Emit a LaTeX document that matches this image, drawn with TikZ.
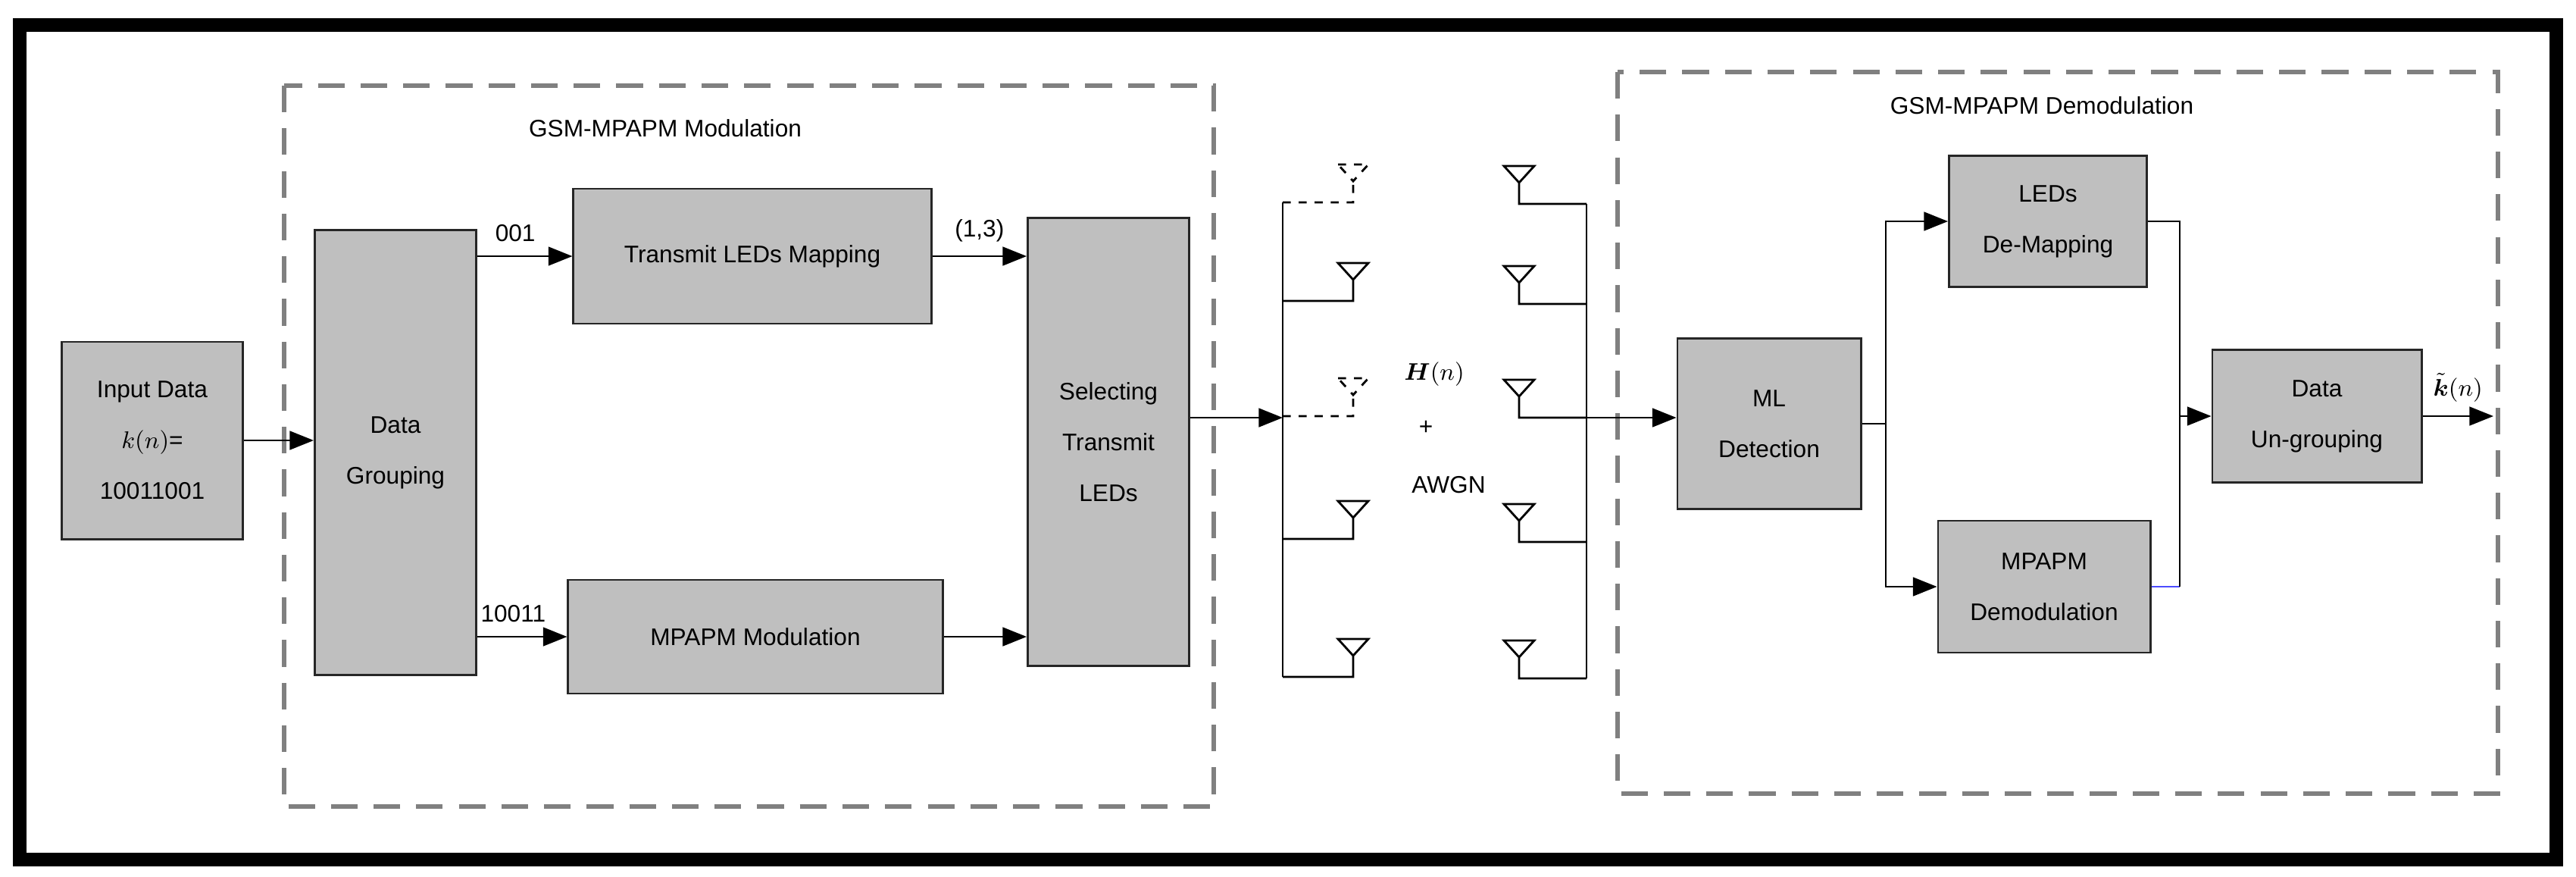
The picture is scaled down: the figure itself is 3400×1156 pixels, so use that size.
\documentclass[tikz,border=0pt]{standalone}
\usepackage{fontspec}
\setmainfont{Liberation Sans}
\usepackage{amsmath}
\usetikzlibrary{arrows.meta}
\begin{document}
\begin{tikzpicture}[x=0.01cm, y=-0.01cm,
block/.style={draw=black!85, fill=black!25, thick, inner sep=0pt, align=center, font=\fontsize{9}{19}\selectfont},
lbl/.style={font=\fontsize{9}{11}\selectfont, inner sep=1pt},
group/.style={draw=black!50, dashed, dash pattern=on 10pt off 6pt, line width=1.6pt},
line/.style={draw=black, thick},
arr/.style={line, -{Triangle[length=9pt, width=7pt]}}
]
\useasboundingbox (0,0) rectangle (3400,1156);
\draw[line width=5pt] (26,33) rectangle (3374,1134);
%Groups
\draw[group] (375,113) rectangle (1602,1064);
\draw[group] (2135,95) rectangle (3297,1047);
\node[lbl] (tmod) at (878,169) {GSM-MPAPM Modulation};
\node[lbl] (tdem) at (2695,139) {GSM-MPAPM Demodulation};
%Nodes
\node[block, minimum width=2.39cm, minimum height=2.60cm] (in)  at (201,581)  {Input Data\\$k(n)$=\\10011001};
\node[block, minimum width=2.13cm, minimum height=5.87cm] (dg)  at (522,597)  {Data\\Grouping};
\node[block, minimum width=4.72cm, minimum height=1.78cm] (tlm) at (993,338)  {Transmit LEDs Mapping};
\node[block, minimum width=4.94cm, minimum height=1.50cm] (mod) at (997,840)  {MPAPM Modulation};
\node[block, minimum width=2.13cm, minimum height=5.90cm] (sel) at (1463,583) {Selecting\\Transmit\\LEDs};
\node[block, minimum width=2.42cm, minimum height=2.25cm] (ml)  at (2335,559) {ML\\Detection};
\node[block, minimum width=2.61cm, minimum height=1.73cm] (dmp) at (2703,292) {LEDs\\De-Mapping};
\node[block, minimum width=2.80cm, minimum height=1.74cm] (dem) at (2698,774) {MPAPM\\Demodulation};
\node[block, minimum width=2.76cm, minimum height=1.75cm] (ung) at (3058,549) {Data\\Un-grouping};
\node[lbl] (h) at (1893,494) {$\boldsymbol{H}(n)$};
\node[lbl] (plus) at (1882,564) {+};
\node[lbl] (awgn) at (1912,640) {AWGN};
%Antennas
\coordinate (txtop) at (1693,267);
\coordinate (txbot) at (1693,893);
\coordinate (rxtop) at (2094,269);
\coordinate (rxbot) at (2094,895);
\draw[line] (txtop) -- (txbot);
\draw[line] (rxtop) -- (rxbot);
\foreach \y/\s in {267/dashed, 397/solid, 549/dashed, 711/solid, 893/solid}{
  \draw[line, \s] (1693,\y) -- (1786,\y) -- (1786,\y-28) (1766,\y-50) -- (1806,\y-50) -- (1786,\y-28) -- cycle;
}
\foreach \y in {269, 401, 551, 715, 895}{
  \draw[line] (2094,\y) -- (2005,\y) -- (2005,\y-28) (1985,\y-50) -- (2025,\y-50) -- (2005,\y-28) -- cycle;
}
\coordinate (txin) at (1693,551);
\coordinate (rxout) at (2094,551);
\coordinate (split) at (2489,559);
\coordinate (join) at (2877,549);
\coordinate (out) at (3291,549);
%Lines
\draw[arr] (in.east) -- (in.east -| dg.west);
\draw[arr] (dg.east |- tlm) -- (tlm.west) node[lbl, pos=0.4, above=4pt] {001};
\draw[arr] (dg.east |- mod) -- (mod.west) node[lbl, pos=0.4, above=4pt] {10011};
\draw[arr] (tlm.east) -- (sel.west |- tlm) node[lbl, pos=0.5, above=4pt] {(1,3)};
\draw[arr] (mod.east) -- (sel.west |- mod);
\draw[arr] (sel.east |- txin) -- (txin);
\draw[arr] (rxout) -- (ml.west |- rxout);
\draw[line] (ml.east) -- (split);
\draw[arr] (split) |- (dmp.west);
\draw[arr] (split) |- (dem.west);
\draw[line] (dmp.east) -| (join);
\draw[line, blue!70] (dem.east) -- (dem.east -| join);
\draw[line] (dem.east -| join) -- (join);
\draw[arr] (join) -- (ung.west);
\draw[arr] (ung.east) -- (out) node[lbl, midway, above=4pt] {$\tilde{\boldsymbol{k}}(n)$};
\end{tikzpicture}
\end{document}
